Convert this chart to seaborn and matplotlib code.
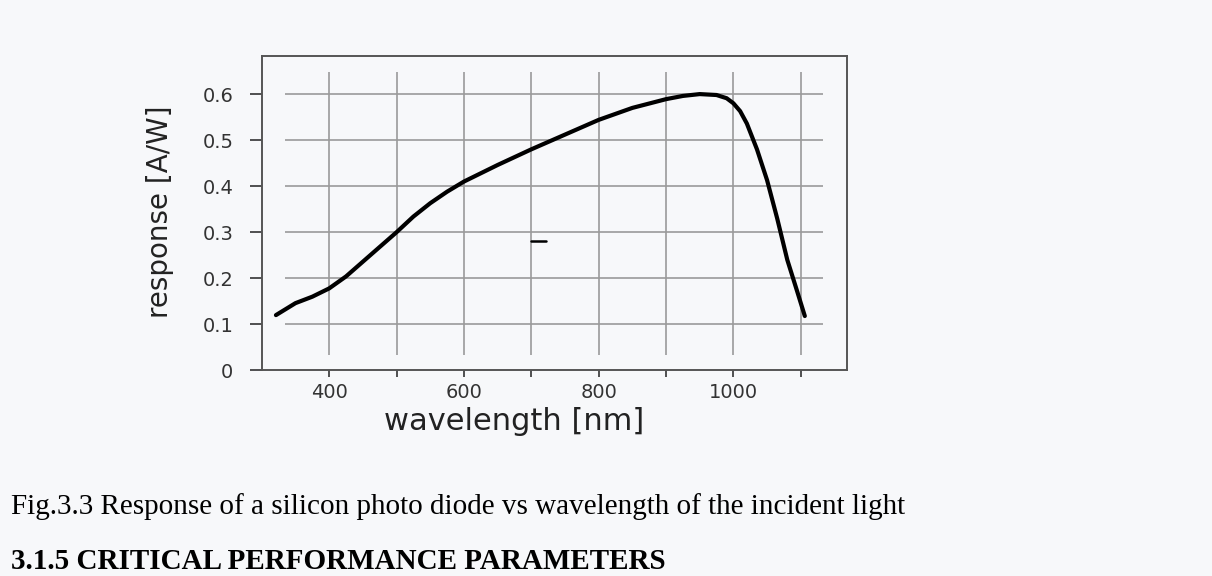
import matplotlib
matplotlib.use("Agg")
import matplotlib.pyplot as plt
import pandas as pd
import seaborn as sns

# photodiode responsivity
wavelength_nm = [321, 350, 375, 400, 425, 450, 475, 500, 525, 550, 575, 600, 650, 700,
                 750, 800, 850, 900, 925, 950, 975, 990, 1000, 1010, 1020, 1035,
                 1050, 1065, 1080, 1095, 1106]
response_aw = [0.120, 0.146, 0.160, 0.178, 0.204, 0.236, 0.268, 0.300, 0.334, 0.363,
               0.388, 0.410, 0.446, 0.480, 0.512, 0.544, 0.570, 0.589, 0.596, 0.600,
               0.598, 0.591, 0.580, 0.563, 0.536, 0.480, 0.413, 0.330, 0.240, 0.170,
               0.118]

# stray dash near the middle of the plot
dash_x = [700, 722]
dash_y = [0.28, 0.28]

x_ticks = [400, 500, 600, 700, 800, 900, 1000, 1100]
x_tick_labels = ["400", "", "600", "", "800", "", "1000", ""]
y_ticks = [0, 0.1, 0.2, 0.3, 0.4, 0.5, 0.6]
y_tick_labels = ["0", "0.1", "0.2", "0.3", "0.4", "0.5", "0.6"]

caption = "Fig.3.3 Response of a silicon photo diode vs wavelength of the incident light"
heading = "3.1.5 CRITICAL PERFORMANCE PARAMETERS"

BG = "#f7f8fa"


def main() -> None:
    df = pd.DataFrame({"wavelength": wavelength_nm, "response": response_aw})

    sns.set_theme(style="white")
    plt.rcParams["font.family"] = ["DejaVu Sans"]

    fig = plt.figure(figsize=(12.12, 5.76), dpi=100, facecolor=BG)
    ax = fig.add_axes([0.216, 0.357, 0.4825, 0.546], facecolor=BG)

    # grid drawn as short segments, it stops short of the frame
    ax.hlines(y_ticks[1:], 335, 1133, color="#9a9a9a", lw=1.2, zorder=1)
    ax.vlines(x_ticks, 0.033, 0.648, color="#9a9a9a", lw=1.2, zorder=1)

    sns.lineplot(data=df, x="wavelength", y="response", ax=ax, color="black",
                 lw=3.0, sort=False, zorder=3)
    ax.plot(dash_x, dash_y, color="black", lw=1.8, zorder=3)

    ax.set_xlim(300, 1168)
    ax.set_ylim(0, 0.683)
    ax.set_xticks(x_ticks)
    ax.set_xticklabels(x_tick_labels)
    ax.set_yticks(y_ticks)
    ax.set_yticklabels(y_tick_labels)
    ax.tick_params(axis="x", direction="out", length=5, width=1.2, pad=4,
                   labelsize=14, colors="#333333", bottom=True)
    ax.tick_params(axis="y", direction="out", length=8.5, width=1.2, pad=12,
                   labelsize=14, colors="#333333", left=True)
    for s in ax.spines.values():
        s.set_color("#555555")
        s.set_linewidth(1.4)

    ax.set_xlabel("wavelength [nm]", fontsize=22, color="#222222", va="center")
    ax.xaxis.set_label_coords(0.431, -0.164)
    ax.set_ylabel("response [A/W]", fontsize=20, color="#222222", va="center")
    ax.yaxis.set_label_coords(-0.174, 0.503)

    fig.text(11 / 1212, 1 - 514 / 576, caption, family="Liberation Serif",
             fontsize=21, color="black", va="baseline", ha="left")
    fig.text(11 / 1212, 1 - 569 / 576, heading, family="Liberation Serif",
             fontsize=21, fontweight="bold", color="black", va="baseline", ha="left")

    fig.savefig("out.png", dpi=100, facecolor=BG)
    plt.close(fig)


if __name__ == "__main__":
    main()
